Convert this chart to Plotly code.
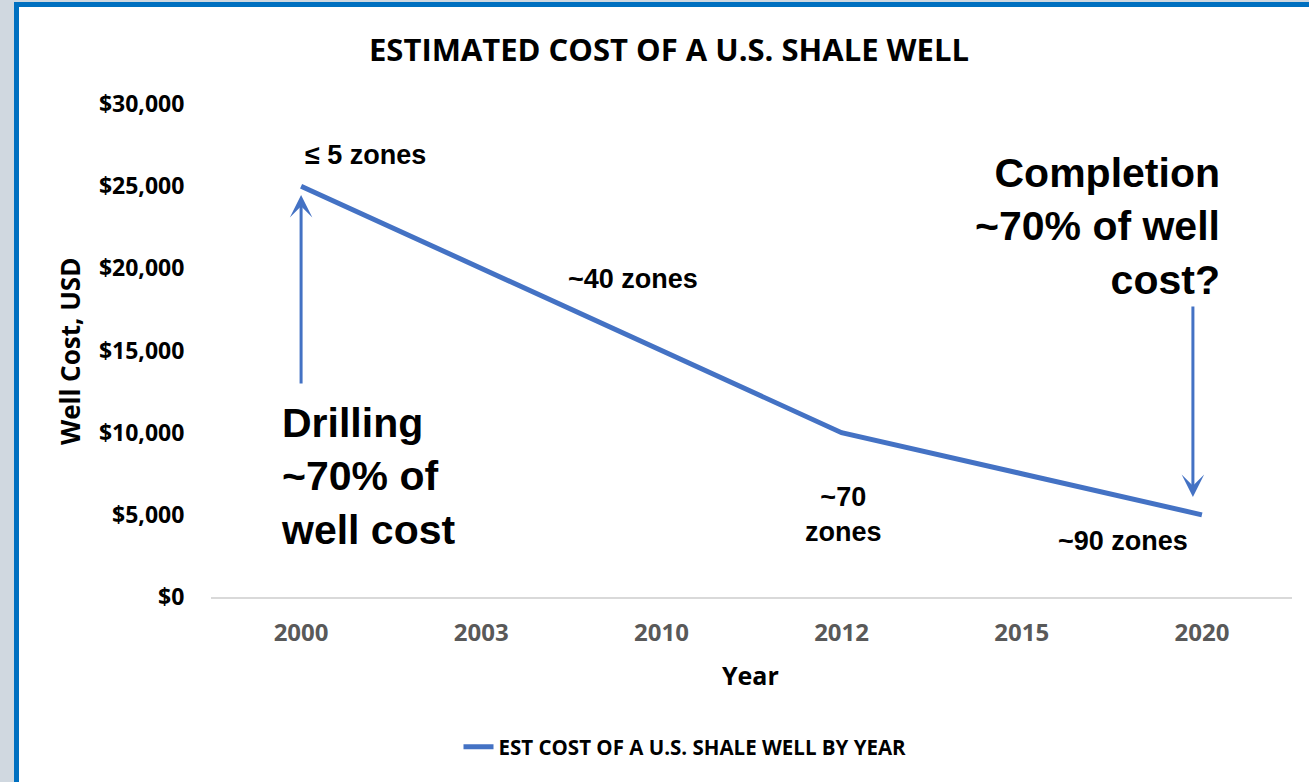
import plotly.graph_objects as go

# Estimated cost of a U.S. shale well by year
years = ["2000", "2003", "2010", "2012", "2015", "2020"]
well_cost = [25000, 20000, 15000, 10000, 7500, 5000]
y_ticks = [0, 5000, 10000, 15000, 20000, 25000, 30000]

LINE_BLUE = "#4472C4"
BORDER_BLUE = "#0070C0"
SIDE_GRAY = "#D0D8E0"
UI_FONT = "Open Sans"
NOTE_FONT = "Liberation Sans"

W, H = 1309, 782
L, R, T, B = 211, 17, 104, 185
PW, PH = W - L - R, H - T - B


def px(x):
    return (x - L) / PW


def py(y):
    return (H - B - y) / PH


fig = go.Figure()
fig.add_trace(go.Scatter(
    x=years, y=well_cost, mode="lines",
    name="EST COST OF A U.S. SHALE WELL BY YEAR",
    line=dict(color=LINE_BLUE, width=5),
))

shapes = [
    # gray strip on the left and top
    dict(type="rect", xref="paper", yref="paper", x0=px(0), x1=px(14), y0=py(H), y1=py(0),
         fillcolor=SIDE_GRAY, line_width=0, layer="below"),
    dict(type="rect", xref="paper", yref="paper", x0=px(0), x1=px(W), y0=py(2), y1=py(0),
         fillcolor=SIDE_GRAY, line_width=0, layer="below"),
    # blue frame on the left and top
    dict(type="rect", xref="paper", yref="paper", x0=px(14), x1=px(19), y0=py(H), y1=py(2),
         fillcolor=BORDER_BLUE, line_width=0, layer="below"),
    dict(type="rect", xref="paper", yref="paper", x0=px(14), x1=px(W), y0=py(7), y1=py(2),
         fillcolor=BORDER_BLUE, line_width=0, layer="below"),
]

note = dict(family=NOTE_FONT, size=27, color="black")
big = dict(family=NOTE_FONT, size=41, color="black")

annotations = [
    dict(x=0.355, y=26900, text="<b>≤ 5 zones</b>", font=note),
    dict(x=1.842, y=19350, text="<b>~40 zones</b>", font=note),
    dict(x=3.013, y=5050, text="<b>~70<br>zones</b>", font=note),
    dict(x=4.562, y=3410, text="<b>~90 zones</b>", font=note),
    dict(x=-0.125, y=7330, text="<b>Drilling<br>~70% of<br>well cost</b>", font=big,
         xanchor="left", align="left"),
    dict(x=5.110, y=22520, text="<b>Completion<br>~70% of well<br>cost?</b>", font=big,
         xanchor="right", align="right"),
    # arrows
    dict(x=0, y=24460, ax=0, ay=12900, axref="x", ayref="y", text="", showarrow=True,
         arrowhead=3, arrowsize=1.25, arrowwidth=3, arrowcolor=LINE_BLUE),
    dict(x=4.95, y=6085, ax=4.95, ay=17770, axref="x", ayref="y", text="", showarrow=True,
         arrowhead=3, arrowsize=1.25, arrowwidth=3, arrowcolor=LINE_BLUE),
    # axis titles
    dict(xref="paper", yref="paper", x=px(70), y=py(352), text="<b>Well Cost, USD</b>",
         textangle=-90, xanchor="center", yanchor="middle",
         font=dict(family=UI_FONT, size=26, color="black")),
    dict(xref="paper", yref="paper", x=px(750), y=py(675), text="<b>Year</b>",
         xanchor="center", yanchor="middle",
         font=dict(family=UI_FONT, size=25, color="black")),
]
for a in annotations:
    a.setdefault("xref", "x")
    a.setdefault("yref", "y")
    a.setdefault("showarrow", False)

fig.update_layout(
    width=W, height=H,
    margin=dict(l=L, r=R, t=T, b=B),
    paper_bgcolor="white",
    plot_bgcolor="rgba(0,0,0,0)",
    title=dict(text="<b>ESTIMATED COST OF A U.S. SHALE WELL</b>",
               xref="container", yref="container", x=669 / W, y=1 - 50 / H,
               xanchor="center", yanchor="middle",
               font=dict(family=UI_FONT, size=31, color="black")),
    xaxis=dict(type="category", range=[-0.5, 5.5], showgrid=False, zeroline=False,
               showline=True, linecolor="#D9D9D9", linewidth=1.5,
               ticks="outside", ticklen=13, tickcolor="rgba(0,0,0,0)",
               tickfont=dict(family=UI_FONT, size=24, color="#595959", weight="bold")),
    yaxis=dict(range=[0, 30000], tickvals=y_ticks, tickformat="$,.0f",
               showgrid=False, zeroline=False, showline=False,
               ticks="outside", ticklen=21, tickcolor="rgba(0,0,0,0)",
               tickfont=dict(family=UI_FONT, size=23, color="black", weight="bold")),
    showlegend=True,
    legend=dict(orientation="h", x=px(685), y=py(747), xanchor="center", yanchor="middle",
                font=dict(family=UI_FONT, size=20.5, color="black", weight="bold"),
                bgcolor="rgba(0,0,0,0)"),
    shapes=shapes,
    annotations=annotations,
)

fig.write_html("out.html")
